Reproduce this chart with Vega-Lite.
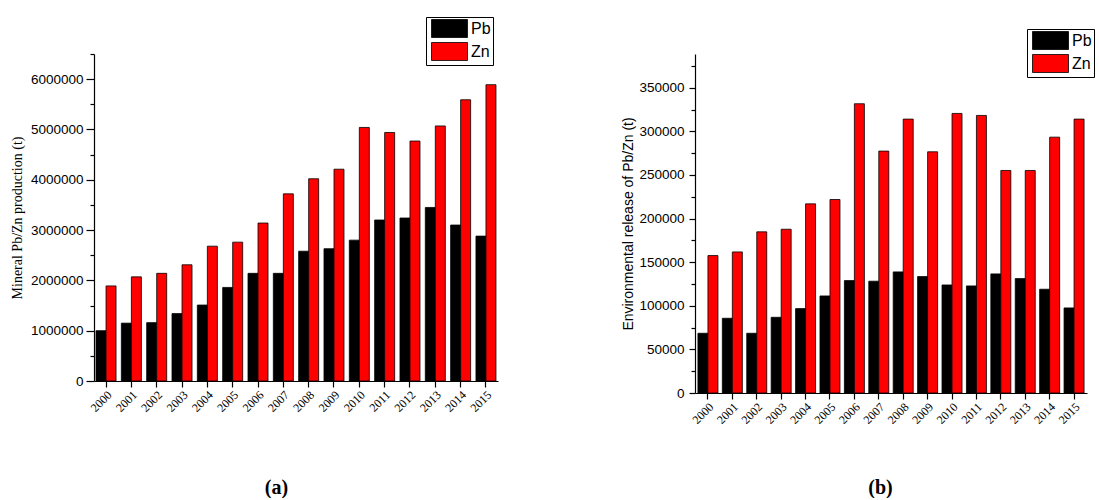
{
  "$schema": "https://vega.github.io/schema/vega-lite/v6.json",
  "padding": {"left": 10, "top": 16, "right": 0, "bottom": 0},
  "background": "white",
  "spacing": 123,
  "config": {
    "view": {"stroke": null},
    "axis": {"grid": false, "domainColor": "black", "tickColor": "black", "labelColor": "black", "titleColor": "black", "domainWidth": 1.2, "tickWidth": 1.2}
  },
  "resolve": {"legend": {"color": "independent"}, "scale": {"color": "independent"}},
  "datasets": {
    "prod": [
      {"year": "2000", "metal": "Pb", "value": 1000000}, {"year": "2000", "metal": "Zn", "value": 1890000},
      {"year": "2001", "metal": "Pb", "value": 1150000}, {"year": "2001", "metal": "Zn", "value": 2070000},
      {"year": "2002", "metal": "Pb", "value": 1160000}, {"year": "2002", "metal": "Zn", "value": 2140000},
      {"year": "2003", "metal": "Pb", "value": 1340000}, {"year": "2003", "metal": "Zn", "value": 2310000},
      {"year": "2004", "metal": "Pb", "value": 1510000}, {"year": "2004", "metal": "Zn", "value": 2680000},
      {"year": "2005", "metal": "Pb", "value": 1860000}, {"year": "2005", "metal": "Zn", "value": 2760000},
      {"year": "2006", "metal": "Pb", "value": 2140000}, {"year": "2006", "metal": "Zn", "value": 3140000},
      {"year": "2007", "metal": "Pb", "value": 2140000}, {"year": "2007", "metal": "Zn", "value": 3720000},
      {"year": "2008", "metal": "Pb", "value": 2580000}, {"year": "2008", "metal": "Zn", "value": 4020000},
      {"year": "2009", "metal": "Pb", "value": 2630000}, {"year": "2009", "metal": "Zn", "value": 4210000},
      {"year": "2010", "metal": "Pb", "value": 2800000}, {"year": "2010", "metal": "Zn", "value": 5040000},
      {"year": "2011", "metal": "Pb", "value": 3200000}, {"year": "2011", "metal": "Zn", "value": 4940000},
      {"year": "2012", "metal": "Pb", "value": 3240000}, {"year": "2012", "metal": "Zn", "value": 4770000},
      {"year": "2013", "metal": "Pb", "value": 3450000}, {"year": "2013", "metal": "Zn", "value": 5070000},
      {"year": "2014", "metal": "Pb", "value": 3100000}, {"year": "2014", "metal": "Zn", "value": 5590000},
      {"year": "2015", "metal": "Pb", "value": 2880000}, {"year": "2015", "metal": "Zn", "value": 5890000}
    ],
    "release": [
      {"year": "2000", "metal": "Pb", "value": 68500}, {"year": "2000", "metal": "Zn", "value": 157600},
      {"year": "2001", "metal": "Pb", "value": 85700}, {"year": "2001", "metal": "Zn", "value": 161800},
      {"year": "2002", "metal": "Pb", "value": 68500}, {"year": "2002", "metal": "Zn", "value": 184800},
      {"year": "2003", "metal": "Pb", "value": 86800}, {"year": "2003", "metal": "Zn", "value": 187800},
      {"year": "2004", "metal": "Pb", "value": 96800}, {"year": "2004", "metal": "Zn", "value": 216900},
      {"year": "2005", "metal": "Pb", "value": 111300}, {"year": "2005", "metal": "Zn", "value": 221900},
      {"year": "2006", "metal": "Pb", "value": 128900}, {"year": "2006", "metal": "Zn", "value": 331700},
      {"year": "2007", "metal": "Pb", "value": 128200}, {"year": "2007", "metal": "Zn", "value": 277400},
      {"year": "2008", "metal": "Pb", "value": 138900}, {"year": "2008", "metal": "Zn", "value": 314100},
      {"year": "2009", "metal": "Pb", "value": 133500}, {"year": "2009", "metal": "Zn", "value": 276600},
      {"year": "2010", "metal": "Pb", "value": 123900}, {"year": "2010", "metal": "Zn", "value": 320600},
      {"year": "2011", "metal": "Pb", "value": 122800}, {"year": "2011", "metal": "Zn", "value": 318300},
      {"year": "2012", "metal": "Pb", "value": 136600}, {"year": "2012", "metal": "Zn", "value": 255200},
      {"year": "2013", "metal": "Pb", "value": 131200}, {"year": "2013", "metal": "Zn", "value": 255200},
      {"year": "2014", "metal": "Pb", "value": 119000}, {"year": "2014", "metal": "Zn", "value": 293400},
      {"year": "2015", "metal": "Pb", "value": 97600}, {"year": "2015", "metal": "Zn", "value": 314100}
    ]
  },
  "hconcat": [
    {
      "data": {"name": "prod"},
      "width": 404,
      "height": 327,
      "mark": {"type": "bar", "stroke": "black", "strokeWidth": 0.8},
      "encoding": {
        "x": {
          "field": "year", "type": "ordinal",
          "scale": {"paddingInner": 0.21, "paddingOuter": 0.08},
          "axis": {
            "title": "(a)", "titleFont": "Liberation Serif", "titleFontSize": 20, "titleFontWeight": "bold",
            "titleX": 182, "titleAnchor": "middle", "titlePadding": 64,
            "labelAngle": -45, "labelFont": "Liberation Serif", "labelFontSize": 12, "tickSize": 6, "labelPadding": 2
          }
        },
        "xOffset": {"field": "metal", "sort": ["Pb", "Zn"]},
        "y": {
          "field": "value", "type": "quantitative",
          "scale": {"domain": [0, 6500000], "nice": false},
          "axis": {
            "title": "Mineral Pb/Zn production (t)", "titleFont": "Liberation Serif", "titleFontSize": 14, "titleFontWeight": "normal", "titlePadding": 6,
            "values": [0, 500000, 1000000, 1500000, 2000000, 2500000, 3000000, 3500000, 4000000, 4500000, 5000000, 5500000, 6000000, 6500000],
            "labelExpr": "datum.value % 1000000 === 0 ? format(datum.value, 'd') : ''",
            "labelFont": "Liberation Sans", "labelFontSize": 13.5, "labelPadding": 3,
            "tickSize": {"condition": {"test": "datum.value % 1000000 !== 0", "value": 4}, "value": 8}
          }
        },
        "color": {
          "field": "metal", "type": "nominal",
          "scale": {"domain": ["Pb", "Zn"], "range": ["#000000", "#ff0000"]},
          "legend": {
            "orient": "none", "legendX": 332, "legendY": -37, "title": null,
            "symbolType": "M-2,-1H2V1H-2Z", "symbolSize": 324, "symbolStrokeColor": "black", "symbolStrokeWidth": 0.8,
            "symbolOffset": 12, "labelOffset": 12,
            "labelFont": "Liberation Sans", "labelFontSize": 16, "labelColor": "black",
            "strokeColor": "black", "fillColor": "white", "padding": 2, "rowPadding": 0
          }
        }
      }
    },
    {
      "data": {"name": "release"},
      "width": 392,
      "height": 339,
      "mark": {"type": "bar", "stroke": "black", "strokeWidth": 0.8},
      "encoding": {
        "x": {
          "field": "year", "type": "ordinal",
          "scale": {"paddingInner": 0.18, "paddingOuter": 0.12},
          "axis": {
            "title": "(b)", "titleFont": "Liberation Serif", "titleFontSize": 20, "titleFontWeight": "bold",
            "titleX": 185, "titleAnchor": "middle", "titlePadding": 52,
            "labelAngle": -45, "labelFont": "Liberation Serif", "labelFontSize": 12, "tickSize": 6, "labelPadding": 2
          }
        },
        "xOffset": {"field": "metal", "sort": ["Pb", "Zn"]},
        "y": {
          "field": "value", "type": "quantitative",
          "scale": {"domain": [0, 388760], "nice": false},
          "axis": {
            "title": "Environmental release of Pb/Zn (t)", "titleFont": "Liberation Sans", "titleFontSize": 14, "titleFontWeight": "normal", "titlePadding": 3,
            "values": [0, 25000, 50000, 75000, 100000, 125000, 150000, 175000, 200000, 225000, 250000, 275000, 300000, 325000, 350000, 375000],
            "labelExpr": "datum.value % 50000 === 0 ? format(datum.value, 'd') : ''",
            "labelFont": "Liberation Sans", "labelFontSize": 13.5, "labelPadding": 5,
            "tickSize": {"condition": {"test": "datum.value % 50000 !== 0", "value": 4}, "value": 6}
          }
        },
        "color": {
          "field": "metal", "type": "nominal",
          "scale": {"domain": ["Pb", "Zn"], "range": ["#000000", "#ff0000"]},
          "legend": {
            "orient": "none", "legendX": 332, "legendY": -25, "title": null,
            "symbolType": "M-2,-1H2V1H-2Z", "symbolSize": 324, "symbolStrokeColor": "black", "symbolStrokeWidth": 0.8,
            "symbolOffset": 12, "labelOffset": 12,
            "labelFont": "Liberation Sans", "labelFontSize": 16, "labelColor": "black",
            "strokeColor": "black", "fillColor": "white", "padding": 2, "rowPadding": 0
          }
        }
      }
    }
  ]
}
